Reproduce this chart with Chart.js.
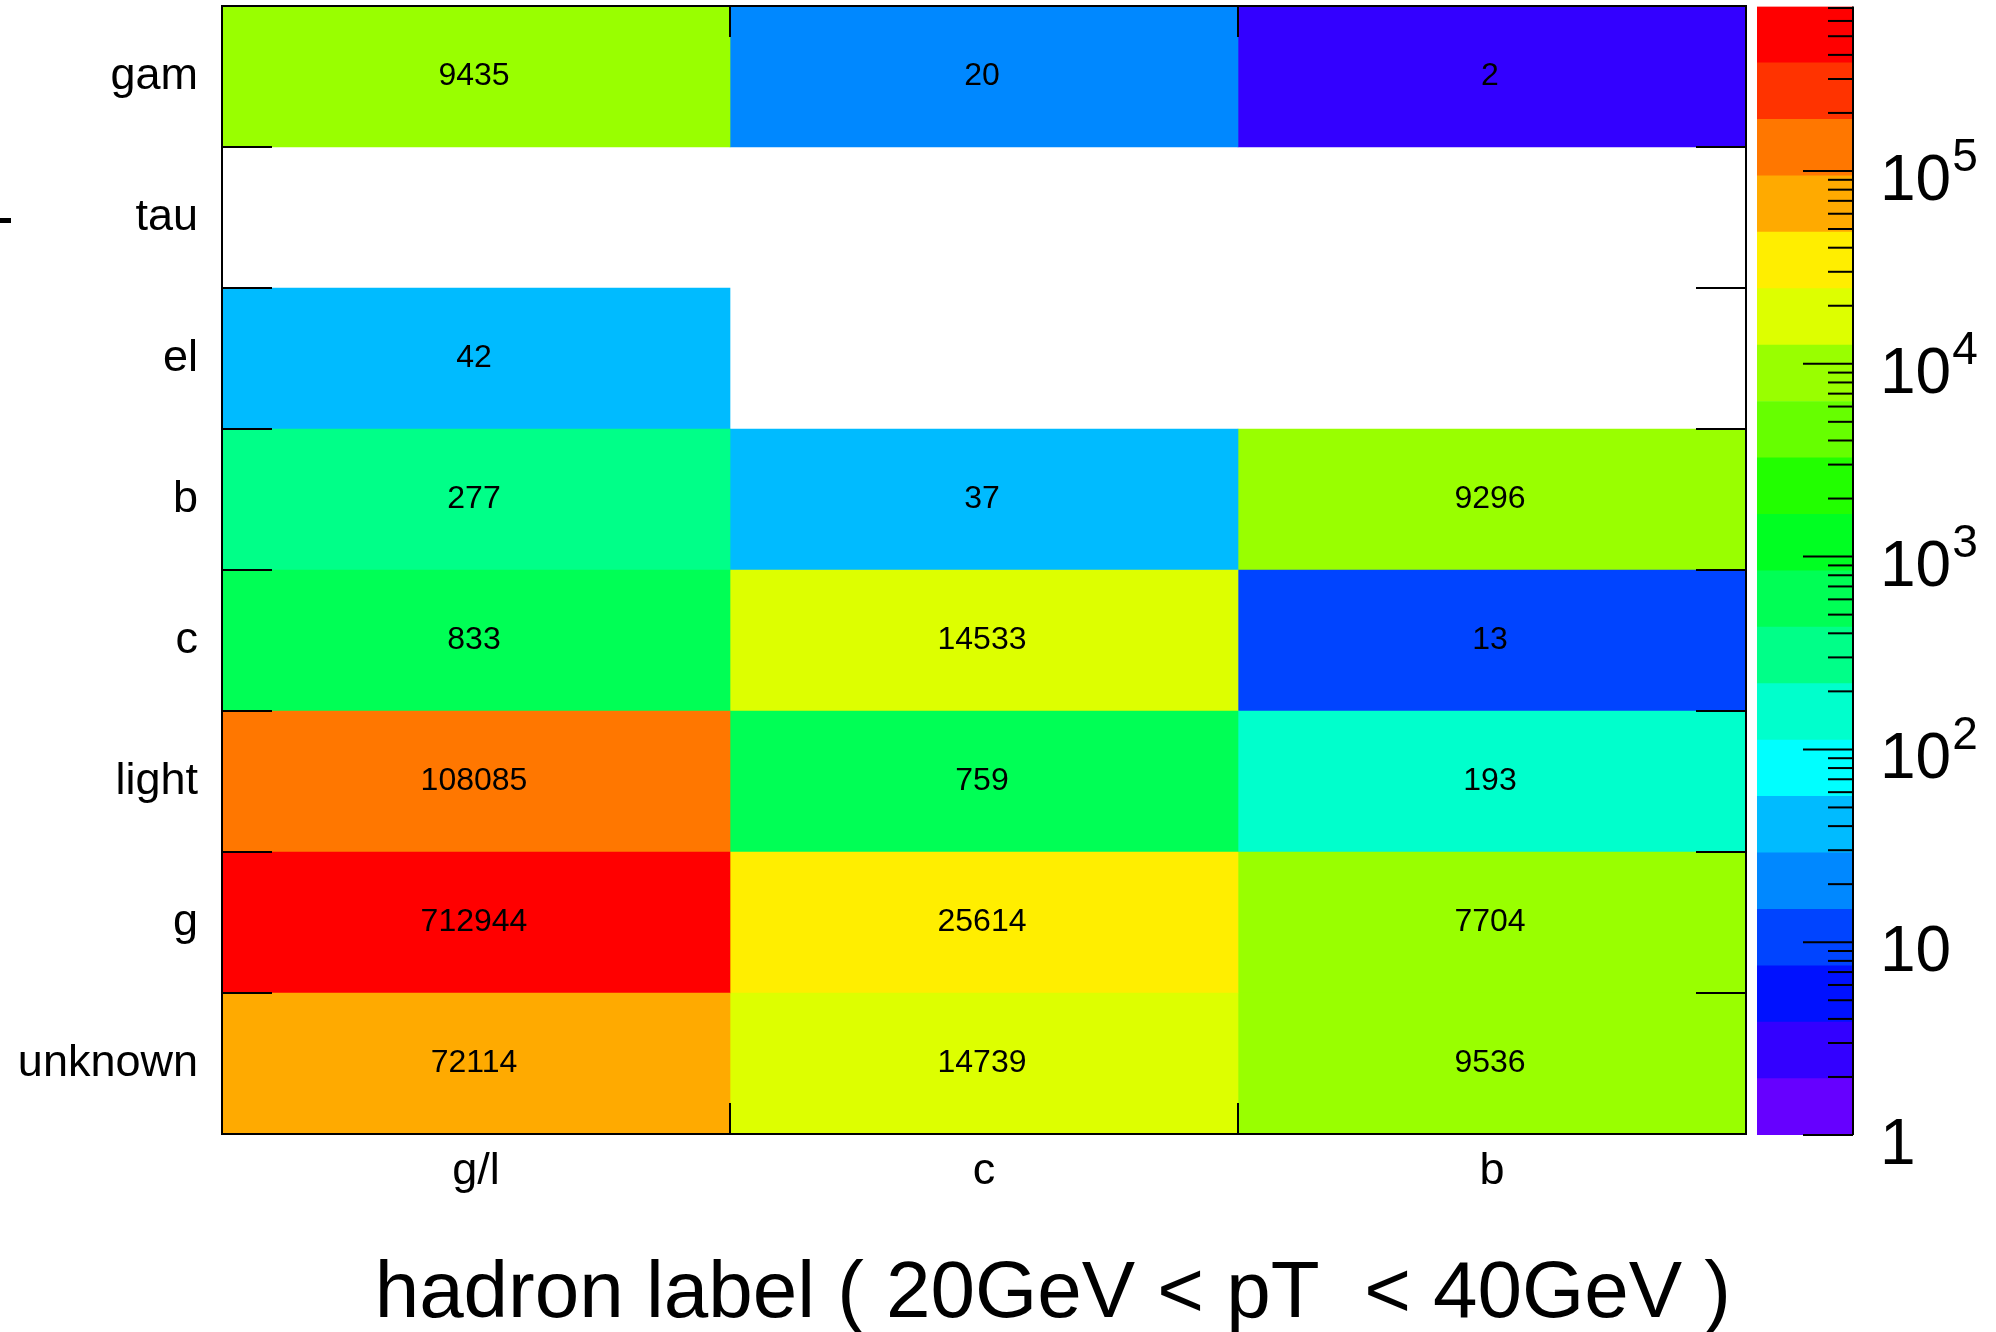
<!DOCTYPE html>
<html>
<head>
<meta charset="utf-8">
<title>hadron label vs flavour label</title>
<script src="https://cdn.jsdelivr.net/npm/chart.js@4.4.1/dist/chart.umd.min.js"></script>
<style>
  body { margin: 0; background: #ffffff; }
  #wrap { position: relative; width: 1996px; height: 1332px; }
  canvas { position: absolute; left: 0; top: 0; }
  #zbar { pointer-events: none; }
</style>
</head>
<body>
<div id="wrap">
  <canvas id="heat" width="1996" height="1332"></canvas>
  <canvas id="zbar" width="1996" height="1332"></canvas>
</div>
<script>
// rows top -> bottom, columns left -> right
const rowLabels = ['gam', 'tau', 'el', 'b', 'c', 'light', 'g', 'unknown'];
const colLabels = ['g/l', 'c', 'b'];

// entries per column, same order as rowLabels (null = empty bin)
const countsGL = [9435, null, 42, 277, 833, 108085, 712944, 72114];
const countsC  = [20, null, null, 37, 14533, 759, 25614, 14739];
const countsB  = [2, null, null, 9296, 13, 193, 7704, 9536];

const xTitle = 'hadron label ( 20GeV < pT  < 40GeV )';

// colour bar: log axis from 1 up to the largest bin, 20 contour levels
const zMin = 1;
const zExponents = [0, 1, 2, 3, 4, 5];
const palette = [
  '#6600ff', '#3300ff', '#0011ff', '#0044ff', '#0088ff',
  '#00bbff', '#00ffff', '#00ffcc', '#00ff88', '#00ff55',
  '#00ff22', '#22ff00', '#66ff00', '#99ff00', '#ddff00',
  '#ffee00', '#ffaa00', '#ff7700', '#ff3300', '#ff0000'
];

const columns = [countsGL, countsC, countsB];
const zMax = Math.max(...columns.flat().filter(v => v != null));
const FONT = "'Liberation Sans', Arial, Helvetica, sans-serif";

function colourFor(v) {
  if (v == null) return 'rgba(0,0,0,0)';
  const frac = Math.log10(v / zMin) / Math.log10(zMax / zMin);
  const idx = Math.min(palette.length - 1, Math.floor(frac * palette.length));
  return palette[Math.max(0, idx)];
}

// no extra room for half labels at the axis ends
function noEndPadding(scale) {
  scale.paddingTop = 0;
  scale.paddingBottom = 0;
  scale.paddingLeft = 0;
  scale.paddingRight = 0;
}

// --- heat map: one floating horizontal bar per filled bin ---
const heatDatasets = columns.map((counts, j) => ({
  label: colLabels[j],
  data: counts.map(v => (v == null ? null : [j, j + 1])),
  counts: counts,
  backgroundColor: counts.map(colourFor),
  borderWidth: 0,
  barPercentage: 1,
  categoryPercentage: 1,
  grouped: false
}));

const heatDecor = {
  id: 'heatDecor',
  afterDatasetsDraw(chart) {
    const ctx = chart.ctx;
    ctx.save();
    ctx.fillStyle = '#000';
    ctx.font = '32px ' + FONT;
    ctx.textAlign = 'center';
    ctx.textBaseline = 'middle';
    chart.data.datasets.forEach((ds, di) => {
      chart.getDatasetMeta(di).data.forEach((bar, i) => {
        if (ds.counts[i] == null) return;
        const c = bar.getCenterPoint();
        ctx.fillText(String(ds.counts[i]), c.x - 2, c.y);
      });
    });
    ctx.restore();
  },
  afterDraw(chart) {
    const {ctx, chartArea: a, scales} = chart;
    ctx.save();
    ctx.strokeStyle = '#000';
    ctx.lineWidth = 2;
    ctx.strokeRect(a.left, a.top, a.right - a.left, a.bottom - a.top);
    // ticks on row edges, left and right
    for (let i = 1; i < rowLabels.length; i++) {
      const y = (scales.y.getPixelForValue(i - 1) + scales.y.getPixelForValue(i)) / 2;
      ctx.beginPath();
      ctx.moveTo(a.left, y); ctx.lineTo(a.left + 50, y);
      ctx.moveTo(a.right, y); ctx.lineTo(a.right - 50, y);
      ctx.stroke();
    }
    // ticks on column edges, bottom and top
    for (let j = 1; j < colLabels.length; j++) {
      const x = scales.x.getPixelForValue(j);
      ctx.beginPath();
      ctx.moveTo(x, a.bottom); ctx.lineTo(x, a.bottom - 31);
      ctx.moveTo(x, a.top); ctx.lineTo(x, a.top + 31);
      ctx.stroke();
    }
    // x axis title, right aligned a little inside the frame (ROOT style)
    ctx.fillStyle = '#000';
    ctx.font = '80px ' + FONT;
    ctx.textAlign = 'right';
    ctx.textBaseline = 'alphabetic';
    ctx.fillText(xTitle, a.right - 15, 1317);
    // small stray mark at the left edge
    ctx.fillRect(0, 218, 11, 5);
    ctx.restore();
  }
};

new Chart(document.getElementById('heat'), {
  type: 'bar',
  data: { labels: rowLabels, datasets: heatDatasets },
  options: {
    indexAxis: 'y',
    responsive: false,
    animation: false,
    devicePixelRatio: 1,
    layout: { padding: { top: 6, right: 250, left: 0, bottom: 0 } },
    plugins: { legend: { display: false }, tooltip: { enabled: false } },
    scales: {
      x: {
        type: 'linear',
        min: 0,
        max: colLabels.length,
        position: 'bottom',
        grid: { display: false },
        border: { display: false },
        afterBuildTicks(scale) {
          scale.ticks = colLabels.map((l, j) => ({ value: j + 0.5 }));
        },
        afterFit(scale) {
          scale.height = 198;
          noEndPadding(scale);
        },
        ticks: {
          callback: (value, index) => colLabels[index],
          color: '#000',
          font: { family: FONT, size: 45, lineHeight: 1.2 },
          padding: 3,
          maxRotation: 0,
          autoSkip: false
        }
      },
      y: {
        type: 'category',
        position: 'left',
        grid: { display: false },
        border: { display: false },
        afterFit(scale) {
          scale.width = 222;
          noEndPadding(scale);
        },
        ticks: {
          color: '#000',
          font: { family: FONT, size: 45 },
          padding: 16,
          autoSkip: false
        }
      }
    }
  },
  plugins: [heatDecor]
});

// --- colour bar: 20 stacked log-scale bands ---
const nLevels = palette.length;
const levelEdges = palette.map((c, i) => Math.pow(zMax / zMin, i / nLevels) * zMin);
levelEdges.push(zMax);

const zDatasets = palette.map((c, i) => ({
  data: [[levelEdges[i], levelEdges[i + 1]]],
  backgroundColor: c,
  borderWidth: 0,
  barPercentage: 1,
  categoryPercentage: 1,
  grouped: false
}));

const zDecor = {
  id: 'zDecor',
  afterDraw(chart) {
    const {ctx, chartArea: a, scales} = chart;
    const z = scales.y;
    ctx.save();
    ctx.strokeStyle = '#000';
    ctx.lineWidth = 2;
    ctx.beginPath();
    ctx.moveTo(a.right, a.top); ctx.lineTo(a.right, a.bottom);
    ctx.stroke();
    zExponents.forEach(e => {
      for (let m = 1; m <= 9; m++) {
        const v = m * Math.pow(10, e);
        if (v > zMax) break;
        const y = z.getPixelForValue(v);
        ctx.beginPath();
        ctx.moveTo(a.right, y);
        ctx.lineTo(a.right - (m === 1 ? 50 : 25), y);
        ctx.stroke();
      }
    });
    // labels 1, 10, 10^2 ...
    ctx.fillStyle = '#000';
    ctx.textAlign = 'left';
    ctx.textBaseline = 'alphabetic';
    zExponents.forEach(e => {
      const y = z.getPixelForValue(Math.pow(10, e)) + 29;
      const x = 1880;
      ctx.font = '64px ' + FONT;
      const base = e === 0 ? '1' : '10';
      ctx.fillText(base, x, y);
      if (e > 1) {
        const w = ctx.measureText(base).width;
        ctx.font = '46px ' + FONT;
        ctx.fillText(String(e), x + w + 1, y - 29);
      }
    });
    ctx.restore();
  }
};

new Chart(document.getElementById('zbar'), {
  type: 'bar',
  data: { labels: ['z'], datasets: zDatasets },
  options: {
    responsive: false,
    animation: false,
    devicePixelRatio: 1,
    layout: { padding: { left: 1757, right: 143, top: 6.5, bottom: 197 } },
    plugins: { legend: { display: false }, tooltip: { enabled: false } },
    scales: {
      x: { display: false },
      y: { type: 'logarithmic', display: false, min: zMin, max: zMax }
    }
  },
  plugins: [zDecor]
});
</script>
</body>
</html>
